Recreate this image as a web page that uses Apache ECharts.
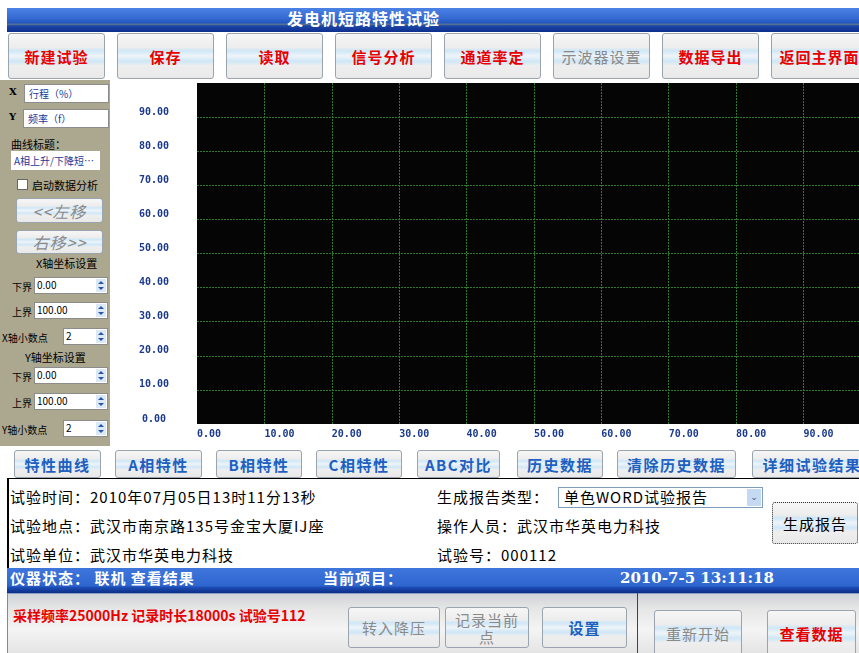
<!DOCTYPE html>
<html>
<head>
<meta charset="utf-8">
<title>发电机短路特性试验</title>
<script src="https://cdn.jsdelivr.net/npm/echarts@6/dist/echarts.min.js"></script>
<style>
  html, body { margin: 0; padding: 0; }
  body {
    width: 859px; height: 653px; overflow: hidden; position: relative;
    background: #fff; font-family: "Noto Sans CJK SC", "DejaVu Sans", sans-serif;
  }
  .abs { position: absolute; box-sizing: border-box; white-space: nowrap; }
  .btn {
    position: absolute; box-sizing: border-box;
    border: 1px solid #9aa4ae; border-radius: 3px;
    background: linear-gradient(#f6f6f6 0%, #ededed 30%, #cfe7f7 38%, #eef4f8 50%, #cfe7f7 62%, #eeeeee 72%, #e9e9e9 100%);
    display: flex; align-items: center; justify-content: center;
    font-weight: bold; white-space: nowrap;
  }
  .top { top: 33px; height: 46px; width: 97px; color: #e80000; font-size: 15px; letter-spacing: 1px; }
  .tab { top: 450px; height: 28px; color: #1f5fbf; font-size: 15px; letter-spacing: 1.5px; }
  .gray { color: #8a8a8a; font-weight: normal; }
  .input {
    position: absolute; box-sizing: border-box; background: #fff;
    border: 1px solid #8c8c8c; font-size: 10px; line-height: 14px; padding-left: 2px; color: #000;
  }
  .spin {
    position: absolute; right: 1px; top: 1px; width: 10px; bottom: 1px;
    background: #dbe8f6;
  }
  .spin:before, .spin:after { content: ""; position: absolute; left: 2px; border-left: 3px solid transparent; border-right: 3px solid transparent; }
  .spin:before { top: 2px; border-bottom: 3px solid #2a55a8; }
  .spin:after { bottom: 2px; border-top: 3px solid #2a55a8; }
  .lbl { position: absolute; font-size: 10px; color: #000; white-space: nowrap; }
  .info { position: absolute; font-size: 15px; letter-spacing: 1px; color: #000; white-space: nowrap; line-height: 18px; }
</style>
</head>
<body>

<!-- 标题栏 -->
<div class="abs" style="left:7px;top:8px;width:852px;height:24px;background:linear-gradient(#4b82e4 0%,#3469d2 45%,#2355bd 62%,#5b7790 68%,#1d46a6 74%,#0d2f8e 100%);"></div>
<div class="abs" style="left:287px;top:8px;height:20px;line-height:20px;color:#fff;font-size:16px;font-weight:bold;letter-spacing:1px;">发电机短路特性试验</div>

<div id="topBtns"></div>

<!-- 左侧参数面板 -->
<div class="abs" style="left:0;top:80px;width:110px;height:366px;background:#aca78f;"></div>
<div class="lbl" style="left:9px;top:86px;font-weight:bold;font-family:'DejaVu Serif';">X</div>
<div class="input" style="left:24px;top:84px;width:85px;height:19px;color:#1a3a9a;font-size:10px;line-height:17px;padding-left:4px;">行程（%）</div>
<div class="lbl" style="left:9px;top:111px;font-weight:bold;font-family:'DejaVu Serif';">Y</div>
<div class="input" style="left:23px;top:109px;width:86px;height:19px;color:#1a3a9a;font-size:10px;line-height:17px;padding-left:4px;">频率（f）</div>
<div class="lbl" style="left:11px;top:136px;font-size:11px;">曲线标题：</div>
<div class="input" style="left:11px;top:151px;width:89px;height:19px;color:#1a3a9a;font-size:10px;line-height:17px;border-color:#fff;">A相上升/下降短…</div>
<div class="abs" style="left:17px;top:179px;width:11px;height:11px;background:#fff;border:1px solid #666;"></div>
<div class="lbl" style="left:32px;top:177px;font-size:11px;">启动数据分析</div>
<div class="btn gray" style="left:16px;top:198px;width:87px;height:25px;font-size:16px;font-style:italic;letter-spacing:1px;">&lt;&lt;左移</div>
<div class="btn gray" style="left:16px;top:230px;width:87px;height:24px;font-size:16px;font-style:italic;letter-spacing:1px;">右移&gt;&gt;</div>
<div class="lbl" style="left:36px;top:255px;font-size:11px;">X轴坐标设置</div>
<div id="axisInputs"></div>
<div class="lbl" style="left:25px;top:349px;font-size:11px;">Y轴坐标设置</div>

<!-- 曲线区域 -->
<div id="chart" style="position:absolute;left:110px;top:80px;width:800px;height:366px;"></div>

<div id="tabBtns"></div>

<!-- 试验信息 -->
<div class="abs" style="left:7px;top:478px;width:852px;height:1px;background:#000;"></div>
<div class="abs" style="left:7px;top:478px;width:2px;height:92px;background:#000;"></div>
<div class="info" style="left:10px;top:488px;">试验时间：2010年07月05日13时11分13秒</div>
<div class="info" style="left:10px;top:517px;">试验地点：武汉市南京路135号金宝大厦IJ座</div>
<div class="info" style="left:10px;top:546px;">试验单位：武汉市华英电力科技</div>
<div class="info" style="left:437px;top:488px;">生成报告类型：</div>
<div class="abs" style="left:558px;top:487px;width:205px;height:21px;border:1px solid #7f9db9;background:#fff;"></div>
<div class="info" style="left:564px;top:488px;">单色WORD试验报告</div>
<div class="abs" style="left:747px;top:489px;width:14px;height:17px;background:#c6d9f2;color:#3a5a9a;font-size:9px;text-align:center;line-height:15px;">&#8964;</div>
<div class="info" style="left:437px;top:517px;">操作人员：武汉市华英电力科技</div>
<div class="info" style="left:437px;top:546px;">试验号：000112</div>
<div class="btn" style="left:772px;top:502px;width:86px;height:42px;border:1px dotted #333;font-weight:normal;font-size:15px;letter-spacing:1px;">生成报告</div>

<!-- 状态栏 -->
<div class="abs" style="left:7px;top:568px;width:852px;height:25px;background:linear-gradient(#3f76dc 0%,#2f66cf 70%,#1d4db4 78%,#0b2c85 100%);"></div>
<div class="abs" style="left:10px;top:569px;color:#fff;font-size:15px;font-weight:bold;letter-spacing:1px;line-height:18px;">仪器状态：&nbsp;联机 查看结果</div>
<div class="abs" style="left:323px;top:569px;color:#fff;font-size:15px;font-weight:bold;letter-spacing:1px;line-height:18px;">当前项目：</div>
<div class="abs" style="left:620px;top:569px;color:#fff;font-size:15px;font-weight:bold;line-height:18px;font-family:'DejaVu Serif';">2010-7-5 13:11:18</div>

<!-- 底部操作区 -->
<div class="abs" style="left:7px;top:593px;width:852px;height:60px;background:linear-gradient(#cfd3d8 0%,#e6e6e6 25%,#f4f4f4 60%,#e4e4e4 100%);border-top:1px solid #8aa2c4;border-left:1px solid #8a8a8a;"></div>
<div class="abs" style="left:13px;top:606px;color:#e80000;font-size:14px;font-weight:bold;line-height:18px;">采样频率25000Hz 记录时长18000s 试验号112</div>
<div class="abs" style="left:637px;top:593px;width:1px;height:60px;background:#23429c;"></div>
<div id="bottomBtns"></div>

<script>
// 按钮文字
const topButtons = ['新建试验', '保存', '读取', '信号分析', '通道率定', '示波器设置', '数据导出', '返回主界面'];
const topDisabled = ['示波器设置'];
const tabButtons = ['特性曲线', 'A相特性', 'B相特性', 'C相特性', 'ABC对比', '历史数据', '清除历史数据', '详细试验结果'];
const tabLeft = [14, 115, 216, 316, 417, 517, 617, 752];
const tabWidth = [87, 87, 86, 86, 83, 86, 119, 120];

// 坐标设置
const axisRowLabels = ['下界', '上界', 'X轴小数点', '下界', '上界', 'Y轴小数点'];
const axisRowValues = ['0.00', '100.00', '2', '0.00', '100.00', '2'];
const axisRowTop = [277, 302, 328, 367, 393, 420];

// 曲线坐标范围
const xRange = [0, 100];
const yRange = [0, 100];
const tickStep = 10;
const decimals = 2;
const curvePoints = []; // 当前无曲线数据

let html = '';
topButtons.forEach((t, i) => {
    const cls = topDisabled.indexOf(t) >= 0 ? 'btn top gray' : 'btn top';
    html += '<div class="' + cls + '" style="left:' + (8 + 109 * i) + 'px">' + t + '</div>';
});
document.getElementById('topBtns').innerHTML = html;

html = '';
tabButtons.forEach((t, i) => {
    html += '<div class="btn tab" style="left:' + tabLeft[i] + 'px;width:' + tabWidth[i] + 'px">' + t + '</div>';
});
document.getElementById('tabBtns').innerHTML = html;

html = '';
axisRowLabels.forEach((t, i) => {
    const small = t.indexOf('小数点') >= 0;
    const left = small ? 63 : 34;
    html += '<div class="lbl" style="left:' + (small ? 2 : 12) + 'px;top:' + (axisRowTop[i] + 2) + 'px">' + t + '</div>';
    html += '<div class="input" style="left:' + left + 'px;top:' + axisRowTop[i] + 'px;width:' + (108 - left) + 'px;height:17px">' +
        axisRowValues[i] + '<span class="spin"></span></div>';
});
document.getElementById('axisInputs').innerHTML = html;

const bottomButtons = [
    { text: '转入降压', left: 348, top: 607, w: 92, h: 41, cls: 'gray' },
    { text: '记录当前<br>点', left: 445, top: 607, w: 84, h: 41, cls: 'gray' },
    { text: '设置', left: 542, top: 607, w: 85, h: 41, color: '#1f5fbf' },
    { text: '重新开始', left: 654, top: 610, w: 88, h: 46, cls: 'gray' },
    { text: '查看数据', left: 767, top: 610, w: 89, h: 46, color: '#e80000' }
];
html = '';
bottomButtons.forEach(b => {
    html += '<div class="btn ' + (b.cls || '') + '" style="left:' + b.left + 'px;top:' + b.top + 'px;width:' + b.w +
        'px;height:' + b.h + 'px;font-size:15px;line-height:17px;text-align:center;letter-spacing:1px;' +
        (b.color ? 'color:' + b.color + ';' : '') + '">' + b.text + '</div>';
});
document.getElementById('bottomBtns').innerHTML = html;

// 曲线图
const myChart = echarts.init(document.getElementById('chart'));
const labelStyle = {
    color: '#1c3a8c',
    fontSize: 10,
    fontWeight: 'bold',
    fontFamily: 'DejaVu Sans Mono'
};
const gridLine = {
    show: true,
    showMinLine: false,
    showMaxLine: false,
    lineStyle: { color: '#2f7a2f', width: 1, type: [2, 1] }
};
myChart.setOption({
    animation: false,
    grid: {
        left: 87, top: 3, width: 683, height: 341,
        show: true, backgroundColor: '#050505', borderWidth: 0
    },
    xAxis: {
        type: 'value',
        min: xRange[0], max: xRange[1], interval: tickStep,
        axisLine: { show: false },
        axisTick: { show: false },
        splitLine: gridLine,
        axisLabel: Object.assign({
            align: 'left',
            margin: 5,
            formatter: v => v.toFixed(decimals)
        }, labelStyle)
    },
    yAxis: {
        type: 'value',
        min: yRange[0], max: yRange[1], interval: tickStep,
        axisLine: { show: false },
        axisTick: { show: false },
        splitLine: gridLine,
        axisLabel: Object.assign({
            align: 'center',
            verticalAlign: 'bottom',
            margin: 43,
            showMaxLabel: false,
            formatter: v => v.toFixed(decimals)
        }, labelStyle)
    },
    series: [{
        type: 'line',
        showSymbol: false,
        lineStyle: { color: '#ffff00', width: 1 },
        data: curvePoints
    }]
});
window.onresize = myChart.resize;
</script>
</body>
</html>
